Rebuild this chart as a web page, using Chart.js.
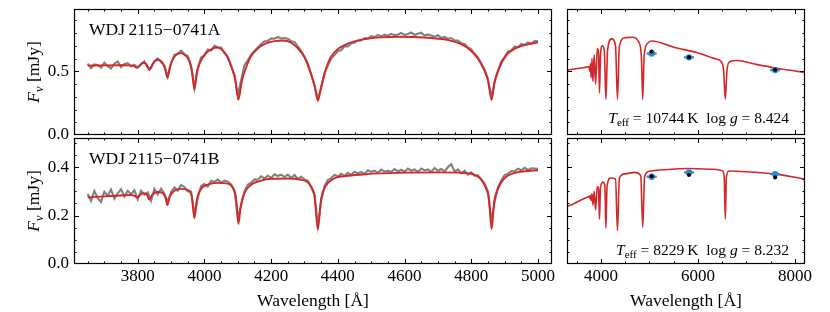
<!DOCTYPE html>
<html>
<head>
<meta charset="utf-8">
<script src="https://cdn.jsdelivr.net/npm/chart.js@4.4.0/dist/chart.umd.min.js"></script>
<style>
  html, body { margin: 0; padding: 0; background: #fff; }
  #wrap { position: relative; width: 830px; height: 312px; }
  #wrap canvas { position: absolute; left: 0; top: 0; }
</style>
</head>
<body>
<div id="wrap">
  <canvas id="tl" width="830" height="312"></canvas>
  <canvas id="bl" width="830" height="312"></canvas>
  <canvas id="tr" width="830" height="312"></canvas>
  <canvas id="br" width="830" height="312"></canvas>
</div>
<script>
// observed spectra: 3650..5000 A, 10 A per pixel
const obsStart = 3650, obsStep = 10;
const obsFluxA = [
  0.560, 0.526, 0.554, 0.548, 0.528, 0.569, 0.541, 0.523, 0.560, 0.578,
  0.534, 0.558, 0.565, 0.539, 0.552, 0.528, 0.558, 0.579, 0.530, 0.528,
  0.581, 0.602, 0.574, 0.544, 0.460, 0.564, 0.629, 0.638, 0.663, 0.636,
  0.621, 0.538, 0.371, 0.518, 0.609, 0.624, 0.671, 0.664, 0.700, 0.689,
  0.687, 0.643, 0.616, 0.544, 0.472, 0.312, 0.430, 0.549, 0.587, 0.632,
  0.660, 0.688, 0.714, 0.737, 0.739, 0.759, 0.756, 0.770, 0.758, 0.762,
  0.757, 0.737, 0.731, 0.696, 0.662, 0.614, 0.561, 0.478, 0.390, 0.284,
  0.370, 0.484, 0.545, 0.601, 0.628, 0.660, 0.666, 0.696, 0.696, 0.720,
  0.727, 0.743, 0.743, 0.762, 0.757, 0.776, 0.769, 0.787, 0.775, 0.788,
  0.780, 0.795, 0.784, 0.790, 0.802, 0.786, 0.793, 0.805, 0.786, 0.795,
  0.804, 0.782, 0.790, 0.782, 0.773, 0.784, 0.764, 0.771, 0.756, 0.762,
  0.742, 0.742, 0.720, 0.716, 0.687, 0.674, 0.638, 0.608, 0.560, 0.513,
  0.438, 0.300, 0.412, 0.504, 0.577, 0.612, 0.656, 0.664, 0.695, 0.688,
  0.715, 0.709, 0.728, 0.719, 0.740, 0.736
];
const obsFluxB = [
  0.289, 0.260, 0.301, 0.273, 0.256, 0.299, 0.282, 0.307, 0.270, 0.292,
  0.309, 0.278, 0.302, 0.289, 0.304, 0.267, 0.302, 0.286, 0.296, 0.261,
  0.310, 0.287, 0.311, 0.290, 0.255, 0.297, 0.316, 0.302, 0.326, 0.318,
  0.299, 0.299, 0.205, 0.272, 0.322, 0.330, 0.320, 0.343, 0.338, 0.349,
  0.335, 0.344, 0.340, 0.328, 0.303, 0.194, 0.241, 0.300, 0.327, 0.336,
  0.349, 0.348, 0.362, 0.353, 0.365, 0.355, 0.370, 0.363, 0.369, 0.359,
  0.369, 0.356, 0.367, 0.351, 0.360, 0.349, 0.343, 0.317, 0.286, 0.160,
  0.262, 0.321, 0.347, 0.354, 0.368, 0.361, 0.372, 0.364, 0.376, 0.368,
  0.381, 0.374, 0.380, 0.372, 0.387, 0.380, 0.385, 0.377, 0.390, 0.381,
  0.385, 0.380, 0.392, 0.382, 0.389, 0.381, 0.394, 0.385, 0.390, 0.380,
  0.394, 0.386, 0.390, 0.380, 0.396, 0.384, 0.392, 0.382, 0.400, 0.412,
  0.381, 0.390, 0.374, 0.385, 0.369, 0.378, 0.365, 0.366, 0.348, 0.332,
  0.299, 0.175, 0.257, 0.316, 0.346, 0.367, 0.372, 0.383, 0.382, 0.393,
  0.387, 0.397, 0.388, 0.395, 0.394, 0.393
];

// best-fit model, spectroscopic range
const modelWaveA = [3650, 3700, 3750, 3780, 3790, 3798, 3806, 3817, 3826, 3835,
  3845, 3862, 3875, 3882, 3889, 3897, 3910, 3929, 3945, 3955,
  3963, 3970, 3977, 3987, 4000, 4015, 4034, 4050, 4065, 4080,
  4092, 4102, 4112, 4125, 4140, 4160, 4185, 4210, 4235, 4260,
  4280, 4300, 4318, 4330, 4340, 4350, 4362, 4378, 4398, 4420,
  4450, 4490, 4530, 4580, 4630, 4680, 4730, 4770, 4800, 4820,
  4838, 4850, 4861, 4870, 4880, 4900, 4920, 4940, 4970, 5000];
const modelFluxA = [0.545, 0.547, 0.548, 0.547, 0.540, 0.530, 0.545, 0.568, 0.555, 0.510,
  0.560, 0.590, 0.565, 0.520, 0.450, 0.540, 0.615, 0.643, 0.620, 0.580,
  0.500, 0.357, 0.490, 0.570, 0.630, 0.665, 0.688, 0.675, 0.630, 0.540,
  0.440, 0.278, 0.420, 0.530, 0.620, 0.680, 0.720, 0.738, 0.742, 0.725,
  0.680, 0.610, 0.490, 0.390, 0.270, 0.380, 0.500, 0.610, 0.670, 0.706,
  0.735, 0.757, 0.767, 0.772, 0.770, 0.762, 0.746, 0.714, 0.660, 0.600,
  0.516, 0.430, 0.278, 0.420, 0.500, 0.610, 0.660, 0.690, 0.712, 0.728];
const modelWaveB = [3650, 3700, 3750, 3779, 3790, 3798, 3806, 3817, 3828, 3835,
  3843, 3860, 3875, 3883, 3889, 3895, 3910, 3929, 3950, 3962,
  3970, 3978, 3990, 4010, 4040, 4070, 4085, 4095, 4102, 4109,
  4119, 4139, 4160, 4200, 4250, 4290, 4307, 4320, 4330, 4340,
  4350, 4362, 4387, 4430, 4487, 4577, 4700, 4770, 4810, 4830,
  4845, 4853, 4861, 4869, 4877, 4897, 4937, 4970, 5000];
const modelFluxB = [0.275, 0.279, 0.283, 0.285, 0.282, 0.275, 0.285, 0.292, 0.285, 0.265,
  0.285, 0.297, 0.292, 0.275, 0.243, 0.275, 0.302, 0.310, 0.305, 0.280,
  0.190, 0.270, 0.310, 0.328, 0.335, 0.332, 0.315, 0.270, 0.165, 0.240,
  0.290, 0.326, 0.340, 0.352, 0.353, 0.347, 0.340, 0.320, 0.280, 0.144,
  0.270, 0.319, 0.352, 0.364, 0.371, 0.376, 0.378, 0.376, 0.368, 0.348,
  0.310, 0.270, 0.144, 0.260, 0.300, 0.350, 0.378, 0.384, 0.387];

// model over the photometric range
const sedWaveA = [3300, 3450, 3600, 3700, 3745, 3760, 3771, 3784, 3798, 3815,
  3835, 3860, 3889, 3925, 3950, 3970, 3990, 4030, 4070, 4102,
  4135, 4220, 4300, 4340, 4380, 4500, 4650, 4780, 4835, 4861,
  4890, 4960, 5050, 5500, 6000, 6350, 6480, 6530, 6563, 6596,
  6650, 6800, 7200, 7600, 8000, 8300];
const sedFluxA = [0.510, 0.518, 0.527, 0.533, 0.536, 0.525, 0.500, 0.560, 0.450, 0.600,
  0.420, 0.630, 0.400, 0.680, 0.640, 0.330, 0.630, 0.700, 0.660, 0.280,
  0.660, 0.755, 0.700, 0.280, 0.700, 0.765, 0.768, 0.730, 0.600, 0.280,
  0.620, 0.720, 0.738, 0.690, 0.645, 0.600, 0.575, 0.500, 0.280, 0.500,
  0.575, 0.585, 0.555, 0.527, 0.503, 0.485];
const sedWaveB = [3300, 3450, 3600, 3700, 3760, 3771, 3784, 3798, 3815, 3835,
  3860, 3889, 3925, 3950, 3970, 3990, 4040, 4080, 4102, 4125,
  4200, 4300, 4340, 4380, 4500, 4700, 4820, 4861, 4900, 5000,
  5300, 5800, 6300, 6500, 6540, 6563, 6586, 6640, 7000, 7600,
  8000, 8300];
const sedFluxB = [0.237, 0.250, 0.265, 0.274, 0.279, 0.270, 0.283, 0.262, 0.290, 0.243,
  0.300, 0.223, 0.320, 0.310, 0.185, 0.315, 0.338, 0.325, 0.148, 0.320,
  0.355, 0.350, 0.138, 0.355, 0.372, 0.378, 0.365, 0.152, 0.360, 0.383,
  0.389, 0.394, 0.391, 0.385, 0.360, 0.186, 0.360, 0.384, 0.381, 0.371,
  0.358, 0.345];

// Gaia BP, G, RP
const photWave = [5045, 5815, 7590];
const photObsA = [0.640, 0.610, 0.510];
const photSynA = [0.656, 0.610, 0.512];
const photObsB = [0.360, 0.378, 0.371];
const photSynB = [0.362, 0.367, 0.357];

// axes
const leftXRange = [3609, 5042], rightXRange = [3300, 8206];
const topYRange = [0, 0.99], bottomYRange = [0, 0.52];
const leftXTicks = [3800, 4000, 4200, 4400, 4600, 4800, 5000];
const rightXTicks = [4000, 6000, 8000];
const topYTicks = [0.0, 0.5];
const bottomYTicks = [0.0, 0.2, 0.4];

const RED = '#d62728', GREY = '#808080', BLUE = '#2f86c8';
const W = 830, H = 312, AXW = 50, AXH = 45;
const SERIF = '"Liberation Serif", "Times New Roman", serif';

const pts = (xs, ys) => xs.map((x, i) => ({ x, y: ys[i] }));
const obsPts = ys => ys.map((y, i) => ({ x: obsStart + i * obsStep, y }));

function steps(min, max, step) {
  const out = [];
  for (let k = Math.ceil(min / step - 1e-9); k * step <= max + 1e-9; k++) out.push(k * step);
  return out;
}

function drawParts(ctx, parts, xEnd, base) {
  let total = 0;
  parts.forEach(p => { ctx.font = p.f; total += ctx.measureText(p.t).width; });
  let x = xEnd - total;
  parts.forEach(p => {
    ctx.font = p.f;
    ctx.fillText(p.t, x, base + (p.dy || 0));
    x += ctx.measureText(p.t).width;
  });
}

const panelDecor = {
  id: 'panelDecor',
  afterDraw(chart, args, o) {
    const { ctx, chartArea: a } = chart;
    const xs = chart.scales.x, ys = chart.scales.y;
    ctx.save();
    ctx.strokeStyle = '#000';
    ctx.lineWidth = 1;
    ctx.beginPath();
    const mark = (vals, len, isX) => vals.forEach(v => {
      if (isX) {
        const px = Math.round(xs.getPixelForValue(v)) + 0.5;
        if (px < a.left || px > a.right) return;
        ctx.moveTo(px, a.bottom); ctx.lineTo(px, a.bottom - len);
        ctx.moveTo(px, a.top); ctx.lineTo(px, a.top + len);
      } else {
        const py = Math.round(ys.getPixelForValue(v)) + 0.5;
        if (py < a.top || py > a.bottom) return;
        ctx.moveTo(a.left, py); ctx.lineTo(a.left + len, py);
        ctx.moveTo(a.right, py); ctx.lineTo(a.right - len, py);
      }
    });
    mark(steps(xs.min, xs.max, o.xMinor), 2.5, true);
    mark(o.xMajor, 5, true);
    mark(steps(ys.min, ys.max, o.yMinor), 2.5, false);
    mark(o.yMajor, 5, false);
    ctx.stroke();
    ctx.lineWidth = 1.2;
    ctx.strokeRect(a.left + 0.5, a.top + 0.5, a.right - a.left - 1, a.bottom - a.top - 1);

    ctx.fillStyle = '#000';
    ctx.textBaseline = 'alphabetic';
    ctx.textAlign = 'left';
    if (o.name) {
      ctx.font = '17.5px ' + SERIF;
      ctx.fillText(o.name, a.left + 15, a.top + 26);
    }
    if (o.yTitle) {
      ctx.save();
      ctx.translate(39, (a.top + a.bottom) / 2);
      ctx.rotate(-Math.PI / 2);
      const parts = [
        { t: 'F', f: 'italic 17.5px ' + SERIF },
        { t: '\u03bd', f: 'italic 12.5px ' + SERIF, dy: 3.5 },
        { t: ' [mJy]', f: '17.5px ' + SERIF }
      ];
      let tw = 0;
      parts.forEach(p => { ctx.font = p.f; tw += ctx.measureText(p.t).width; });
      drawParts(ctx, parts, tw / 2, 0);
      ctx.restore();
    }
    if (o.teff) {
      drawParts(ctx, [
        { t: 'T', f: 'italic 15.5px ' + SERIF },
        { t: 'eff', f: '11px ' + SERIF, dy: 3 },
        { t: ' = ' + o.teff + '\u2009K  log ', f: '15.5px ' + SERIF },
        { t: 'g', f: 'italic 15.5px ' + SERIF },
        { t: ' = ' + o.logg, f: '15.5px ' + SERIF }
      ], 789, o.teffBase);
    }
    if (o.xTitle) {
      ctx.textAlign = 'center';
      ctx.font = '17.5px ' + SERIF;
      ctx.fillText('Wavelength [\u00c5]', (a.left + a.right) / 2, 306);
    }
    ctx.restore();
  }
};

function makePanel(id, box, xr, yr, xMajor, xMinor, yMajor, yMinor, datasets, decor) {
  const tickFont = { family: SERIF, size: 17 };
  return new Chart(document.getElementById(id), {
    type: 'line',
    data: { datasets },
    options: {
      responsive: false,
      animation: false,
      events: [],
      layout: { padding: { left: box[0] - AXW, top: box[1], right: W - box[2], bottom: H - box[3] - AXH } },
      plugins: {
        legend: { display: false },
        tooltip: { enabled: false },
        panelDecor: { ...decor, xMajor, xMinor, yMajor, yMinor }
      },
      scales: {
        x: {
          type: 'linear', min: xr[0], max: xr[1],
          grid: { display: false, drawTicks: false }, border: { display: false },
          afterBuildTicks: s => { s.ticks = xMajor.map(v => ({ value: v })); },
          afterFit: s => { s.height = AXH; s.paddingLeft = 0; s.paddingRight = 0; },
          ticks: { display: !!decor.xTitle, autoSkip: false, maxRotation: 0, minRotation: 0,
                   padding: 2, color: '#000', font: tickFont, callback: v => String(v) }
        },
        y: {
          type: 'linear', min: yr[0], max: yr[1],
          grid: { display: false, drawTicks: false }, border: { display: false },
          afterBuildTicks: s => { s.ticks = yMajor.map(v => ({ value: v })); },
          afterFit: s => { s.width = AXW; s.paddingTop = 0; s.paddingBottom = 0; },
          ticks: { display: !!decor.yTitle, autoSkip: false, padding: 5, color: '#000',
                   font: tickFont, callback: v => v.toFixed(1) }
        }
      }
    },
    plugins: [panelDecor]
  });
}

function specSets(wave, model, obs) {
  return [
    { data: pts(wave, model), borderColor: RED, borderWidth: 1.9, pointRadius: 0,
      cubicInterpolationMode: 'monotone' },
    { data: obsPts(obs), borderColor: GREY, borderWidth: 2.1, pointRadius: 0, tension: 0 }
  ];
}

function sedSets(wave, model, obs, syn) {
  return [
    { data: pts(photWave, syn), showLine: false, pointRadius: 2, pointBackgroundColor: '#000',
      pointBorderWidth: 0 },
    { data: pts(photWave, obs), showLine: false, pointRadius: 3.2, pointBackgroundColor: BLUE,
      pointBorderWidth: 0 },
    { data: pts(photWave, obs), showLine: false, pointStyle: 'line', pointRadius: 5,
      pointBorderColor: BLUE, pointBorderWidth: 2.2 },
    { data: pts(wave, model), borderColor: RED, borderWidth: 1.6, pointRadius: 0,
      cubicInterpolationMode: 'monotone' }
  ];
}

makePanel('tl', [74, 9, 552, 135], leftXRange, topYRange, leftXTicks, 50, topYTicks, 0.1,
  specSets(modelWaveA, modelFluxA, obsFluxA),
  { name: 'WDJ\u20092115\u22120741A', yTitle: true });
makePanel('bl', [74, 138, 552, 264], leftXRange, bottomYRange, leftXTicks, 50, bottomYTicks, 0.05,
  specSets(modelWaveB, modelFluxB, obsFluxB),
  { name: 'WDJ\u20092115\u22120741B', yTitle: true, xTitle: true });
makePanel('tr', [567, 9, 805, 135], rightXRange, topYRange, rightXTicks, 500, topYTicks, 0.1,
  sedSets(sedWaveA, sedFluxA, photObsA, photSynA),
  { teff: '10744', logg: '8.424', teffBase: 123 });
makePanel('br', [567, 138, 805, 264], rightXRange, bottomYRange, rightXTicks, 500, bottomYTicks, 0.05,
  sedSets(sedWaveB, sedFluxB, photObsB, photSynB),
  { teff: '8229', logg: '8.232', teffBase: 255, xTitle: true });
</script>
</body>
</html>
